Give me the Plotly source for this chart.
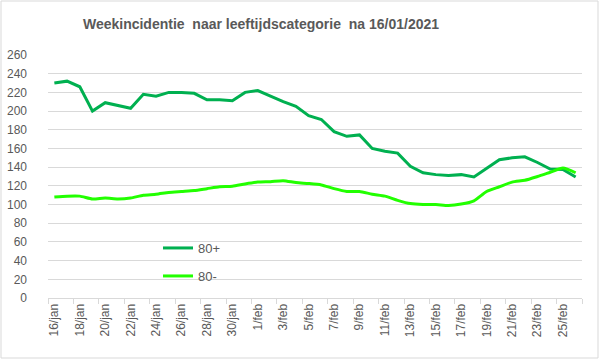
import plotly.graph_objects as go

dates = [f"{d}/jan" for d in range(16, 32)] + [f"{d}/feb" for d in range(1, 27)]

plus80 = [230, 232, 226, 200, 209, 206, 203, 218, 216, 220, 220, 219, 212, 212, 211, 220,
          222, 216, 210, 205, 195, 191, 178, 173, 174.5, 160, 157, 155, 141, 134, 132, 131,
          132, 129.5, 139, 148, 150, 151, 145, 138, 137.5, 129.5]

min80 = [108, 109, 109, 106, 107, 106, 107, 110, 111, 113, 114, 115, 117, 119, 119.5, 122,
         124, 124.5, 125.5, 123.5, 122.5, 121, 117, 114, 114, 111, 109, 104.5, 101, 100, 100, 99,
         100.5, 104, 114, 119, 124, 126, 130, 134.5, 139, 134]

title = "Weekincidentie  naar leeftijdscategorie  na 16/01/2021"
y_ticks = list(range(0, 261, 20))

W, H = 599, 359
ml, mr, mt, mb = 48, 17, 55, 61
pw, ph = W - ml - mr, H - mt - mb
txt = "#595959"
font = "Liberation Sans"

fig = go.Figure()
fig.add_trace(go.Scatter(x=dates, y=plus80, mode="lines", name="80+", showlegend=True,
                         line=dict(color="#00B050", width=3), legend="legend"))
fig.add_trace(go.Scatter(x=dates, y=min80, mode="lines", name="80-", showlegend=True,
                         line=dict(color="#22FF00", width=3, shape="spline", smoothing=0.6),
                         legend="legend2"))

def px_x(p):
    return (p - ml) / pw

def px_y(p):
    return (H - mb - p) / ph

leg_common = dict(bgcolor="rgba(0,0,0,0)", font=dict(family=font, size=13, color=txt),
                  xanchor="left", yanchor="middle", itemwidth=30, tracegroupgap=0)
fig.update_layout(
    width=W, height=H, showlegend=True,
    margin=dict(l=ml, r=mr, t=mt, b=mb, autoexpand=False),
    paper_bgcolor="white", plot_bgcolor="white",
    title=dict(text=title, x=261 / W, xanchor="center", xref="container",
               y=1 - 24 / H, yanchor="middle", yref="container",
               font=dict(family=font, size=14, color=txt, weight="bold")),
    legend=dict(x=px_x(158), y=px_y(248), visible=True, **leg_common),
    legend2=dict(x=px_x(158), y=px_y(276), visible=True, **leg_common),
    xaxis=dict(type="category", categoryorder="array", categoryarray=dates,
               range=[-0.5, len(dates) - 0.5], dtick=2, tickson="boundaries",
               ticks="outside", ticklen=5, tickcolor="#D9D9D9", showline=True,
               linecolor="#D9D9D9", linewidth=1, showgrid=False, tickangle=-90,
               automargin=False, tickfont=dict(family=font, size=12, color=txt)),
    yaxis=dict(range=[0, 260], tickvals=y_ticks, showgrid=True, gridcolor="#D9D9D9",
               gridwidth=1, zeroline=False, showline=False, ticks="", automargin=False,
               ticklabelstandoff=20, tickfont=dict(family=font, size=12, color=txt)),
    shapes=[dict(type="rect", xref="paper", yref="paper",
                 x0=px_x(1), x1=px_x(W - 1), y0=px_y(H - 1), y1=px_y(1),
                 line=dict(color="#D9D9D9", width=1), fillcolor="rgba(0,0,0,0)", layer="below")],
)
fig.write_html("out.html", config={"displayModeBar": False},
               post_script="document.body.style.margin='0';")
